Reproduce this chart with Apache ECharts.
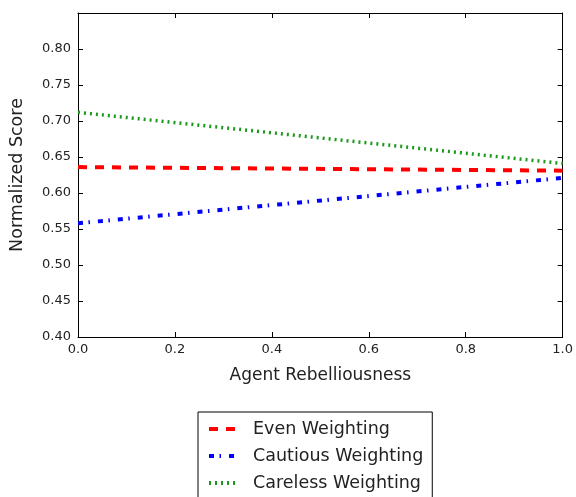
<!DOCTYPE html>
<html>
  <head>
    <meta charset="utf-8" />
    <title>ECharts</title>
    <script src="https://cdn.jsdelivr.net/npm/echarts@6/dist/echarts.min.js"></script>
  </head>
  <body style="margin: 0">
    <div id="main" style="width: 576px; height: 497px"></div>
    <script type="text/javascript">
      var myChart = echarts.init(document.getElementById("main"));

      var rebelliousness = [0.0, 1.0];
      var evenWeighting = [0.636, 0.631];
      var cautiousWeighting = [0.558, 0.621];
      var carelessWeighting = [0.712, 0.641];
      var seriesNames = ["Even Weighting", "Cautious Weighting", "Careless Weighting"];

      function pairs(ys) {
        return rebelliousness.map(function (x, i) {
          return [x, ys[i]];
        });
      }

      var font = "DejaVu Sans";
      var axisCommon = {
        axisLine: { show: true, onZero: false, lineStyle: { color: "#000", width: 1 } },
        axisTick: { show: true, inside: true, length: 5, lineStyle: { color: "#000" } },
        splitLine: { show: false },
      };

      option = {
        animation: false,
        textStyle: { fontFamily: font },
        grid: { left: 77, top: 13, right: 12, bottom: 160 },
        legend: {
          orient: "vertical",
          left: 198,
          top: 412,
          height: 160,
          padding: [8, 9, 8, 9],
          itemGap: 9,
          itemWidth: 30,
          itemHeight: 17,
          borderColor: "#000",
          borderWidth: 1,
          borderRadius: 0,
          itemStyle: { opacity: 0 },
          lineStyle: { width: 4 },
          textStyle: { fontFamily: font, fontSize: 17.5, color: "#222", padding: [0, 0, 0, 9] },
          data: seriesNames,
        },
        xAxis: [
          Object.assign({}, axisCommon, {
            type: "value",
            min: 0,
            max: 1,
            interval: 0.2,
            name: "Agent Rebelliousness",
            nameLocation: "middle",
            nameGap: 30,
            nameTextStyle: { fontFamily: font, fontSize: 17, color: "#222" },
            axisLabel: {
              fontFamily: font,
              fontSize: 13,
              color: "#222",
              margin: 6,
              formatter: function (v) { return v.toFixed(1); },
            },
          }),
          Object.assign({}, axisCommon, {
            type: "value",
            position: "top",
            min: 0,
            max: 1,
            interval: 0.2,
            axisLabel: { show: false },
          }),
        ],
        yAxis: [
          Object.assign({}, axisCommon, {
            type: "value",
            min: 0.4,
            max: 0.85,
            interval: 0.05,
            name: "Normalized Score",
            nameLocation: "middle",
            nameGap: 52,
            nameTextStyle: { fontFamily: font, fontSize: 17.5, color: "#222" },
            axisLabel: {
              fontFamily: font,
              fontSize: 13,
              color: "#222",
              margin: 7,
              formatter: function (v) {
                return v > 0.84 ? "" : v.toFixed(2);
              },
            },
          }),
          Object.assign({}, axisCommon, {
            type: "value",
            position: "right",
            min: 0.4,
            max: 0.85,
            interval: 0.05,
            axisLabel: { show: false },
          }),
        ],
        series: [
          {
            name: seriesNames[0],
            type: "line",
            symbol: "none",
            data: pairs(evenWeighting),
            lineStyle: { color: "#ff0000", width: 4, type: [9, 8] },
            itemStyle: { color: "#ff0000" },
          },
          {
            name: seriesNames[1],
            type: "line",
            symbol: "none",
            data: pairs(cautiousWeighting),
            lineStyle: { color: "#0000ff", width: 4, type: [5, 5.5, 1.5, 8] },
            itemStyle: { color: "#0000ff" },
          },
          {
            name: seriesNames[2],
            type: "line",
            symbol: "none",
            data: pairs(carelessWeighting),
            lineStyle: { color: "#1a9a1a", width: 3.5, type: [2, 4] },
            itemStyle: { color: "#1a9a1a" },
          },
        ],
      };

      myChart.setOption(option);
    </script>
  </body>
</html>
